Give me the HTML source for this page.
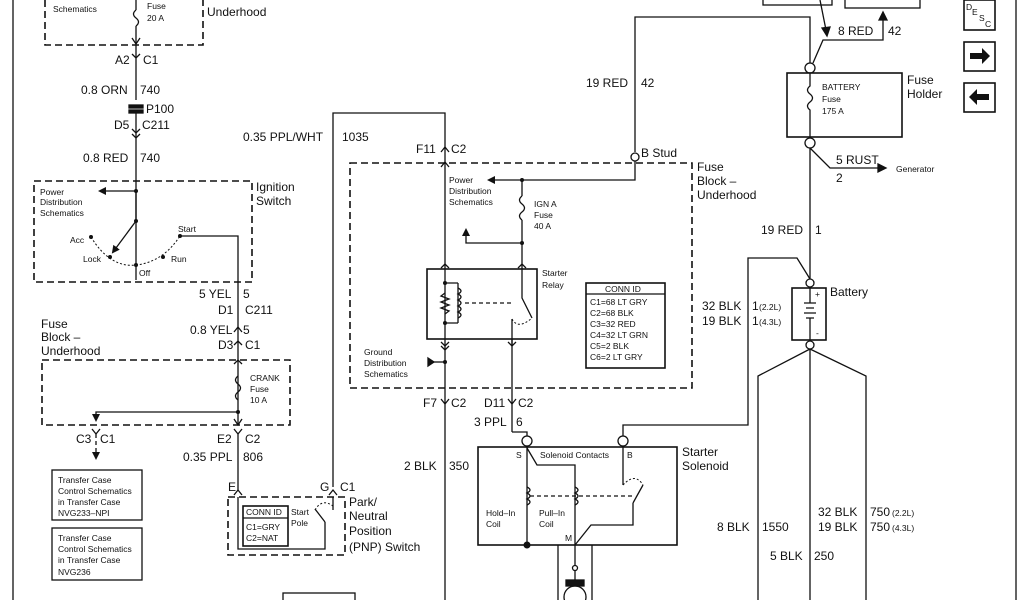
<!DOCTYPE html>
<html><head><meta charset="utf-8"><style>
html,body{margin:0;padding:0;background:#fff;width:1024px;height:600px;overflow:hidden}
svg{display:block}
text{font-family:"Liberation Sans",sans-serif;fill:#111}
.b{font-size:12px}
.s{font-size:8.5px}
</style></head><body>
<svg width="1024" height="600" viewBox="0 0 1024 600" xmlns="http://www.w3.org/2000/svg">
<defs>
<marker id="ah" markerWidth="8" markerHeight="8" refX="6" refY="4" orient="auto" markerUnits="userSpaceOnUse"><path d="M0,0 L8,4 L0,8 Z" fill="#111"/></marker>
</defs>
<g stroke="#111" stroke-width="1.3" fill="none">
<!-- borders -->
<line x1="13" y1="0" x2="13" y2="600"/>
<line x1="1016" y1="0" x2="1016" y2="600"/>
<!-- top-left dashed box -->
<path d="M45,0 V45 H203 V0" stroke-dasharray="7,4" stroke-width="1.6"/>
<!-- left wire -->
<line x1="136" y1="0" x2="136" y2="10"/>
<path d="M136,10 q-5,4 0,8 q5,4 0,8"/>
<line x1="136" y1="26" x2="136" y2="100"/>
<path d="M132,38 L136,44 L140,38"/>
<path d="M132,54 L136,58 L140,54"/>
<rect x="129" y="105" width="14" height="3" fill="#111"/>
<rect x="129" y="110" width="14" height="3" fill="#111"/>
<line x1="136" y1="113" x2="136" y2="280"/>
<path d="M132,129 L136,133 L140,129 M132,134 L136,138 L140,134"/>
<!-- ignition box -->
<rect x="34" y="181" width="218" height="101" stroke-dasharray="7,4" stroke-width="1.6"/>
<line x1="136" y1="191" x2="100" y2="191" marker-end="url(#ah)"/>
<line x1="136" y1="191" x2="136" y2="221"/>
<line x1="136" y1="221" x2="113" y2="252" marker-end="url(#ah)"/>
<path d="M91,237 Q110,268 136,265 Q163,262 180,236" stroke-dasharray="2,2" stroke-width="1"/>
<path d="M180,236 H238 V425"/>
<!-- fuse block underhood 2 -->
<rect x="42" y="360" width="248" height="65" stroke-dasharray="7,4" stroke-width="1.6"/>
<path d="M238,376 q-5,4 0,8 q5,4 0,8 q-5,4 0,8"/>
<path d="M238,412 H96 V420" marker-end="url(#ah)"/>
<path d="M234,419 L238,425 L242,419"/>
<path d="M234,332 L238,327 L242,332 M234,345 L238,341 L242,345 M234,364 L238,360 L242,364"/>
<path d="M234,429 L238,434 L242,429 M92,429 L96,434 L100,429"/>
<line x1="96" y1="434" x2="96" y2="458" stroke-dasharray="4,3" marker-end="url(#ah)"/>
<line x1="238" y1="434" x2="238" y2="490"/>
<rect x="52" y="470" width="90" height="50"/>
<rect x="52" y="528" width="90" height="52"/>
<!-- PNP -->
<rect x="228" y="497" width="117" height="58" stroke-dasharray="7,4" stroke-width="1.6"/>
<path d="M234,495 L238,490 L242,495 M329,495 L333,490 L337,495"/>
<path d="M238,497 V549 H325 V522"/>
<rect x="243" y="506" width="45" height="40" stroke-width="1.6"/>
<line x1="243" y1="518" x2="288" y2="518"/>
<path d="M325,522 L315,509"/>
<path d="M315,510 Q322,498 333,506" stroke-dasharray="2,2" stroke-width="1"/>
<line x1="333" y1="497" x2="333" y2="510"/>
<path d="M333,487 V113 H445 V600"/>
<!-- fuse block 3 -->
<rect x="350" y="163" width="342" height="225" stroke-dasharray="7,4" stroke-width="1.6"/>
<path d="M441,152 L445,147 L449,152 M441,167 L445,162 L449,167"/>
<path d="M635,152 V17 H810 V63"/>
<circle cx="635" cy="157" r="4" fill="#fff"/>
<path d="M635,161 V180 H489" marker-end="url(#ah)"/>
<line x1="522" y1="180" x2="522" y2="196"/>
<path d="M522,196 q-5,4 0,8 q5,4 0,8 q-5,4 0,8"/>
<line x1="522" y1="220" x2="522" y2="269"/>
<path d="M522,243 H466 V230" marker-end="url(#ah)"/>
<path d="M441,268 L445,264 L449,268 M518,268 L522,264 L526,268"/>
<rect x="427" y="269" width="110" height="70" stroke-width="1.6"/>
<path d="M445,283 H458 M445,323 H458 M458,283 V323"/>
<path d="M458,288 q6,3 0,6 q6,3 0,6 q6,3 0,6 q6,3 0,6 q6,3 0,6"/>
<path d="M445,293 l-4,3 l8,3 l-8,3 l8,3 l-8,3 l8,3 l-4,3"/>
<line x1="465" y1="303" x2="512" y2="303" stroke-dasharray="4,3"/>
<path d="M522,269 V298 L532,318"/>
<path d="M512,319 V345"/>
<path d="M512,319 Q518,330 532,318" stroke-dasharray="2,2" stroke-width="1"/>
<path d="M441,342 L445,346 L449,342 M508,342 L512,346 L516,342 M441,346 L445,350 L449,346"/>
<path d="M432,362 H445"/>
<path d="M428,358 L434,362 L428,366 Z" fill="#111"/>
<rect x="586" y="283" width="79" height="85" stroke-width="1.6"/>
<line x1="586" y1="294" x2="665" y2="294"/>
<line x1="512" y1="339" x2="512" y2="432"/>
<path d="M441,399 L445,404 L449,399 M508,399 L512,404 L516,399"/>
<path d="M512,432 H527 V437"/>
<!-- solenoid -->
<rect x="478" y="447" width="199" height="98" stroke-width="1.6"/>
<circle cx="527" cy="441" r="5" fill="#fff"/>
<circle cx="623" cy="441" r="5" fill="#fff"/>
<path d="M623,436 V425 H748 V258 H797 L810,279"/>
<path d="M527,446 V545"/>
<path d="M527,448 L537,465 H575 V545"/>
<path d="M527,487 q6,3 0,6 q6,3 0,6 q6,3 0,6"/>
<path d="M575,487 q6,3 0,6 q6,3 0,6 q6,3 0,6"/>
<line x1="530" y1="496" x2="633" y2="496" stroke-dasharray="4,3"/>
<path d="M623,446 V485 M633,503 L643,485 M633,503 V525 H591 L575,545"/>
<path d="M623,485 Q635,472 643,485" stroke-dasharray="2,2" stroke-width="1"/>
<path d="M558,545 V600 M592,545 V600 M575,545 V585"/>
<circle cx="575" cy="568" r="2.5" fill="#fff"/>
<rect x="566" y="580" width="18" height="6" fill="#111"/>
<circle cx="575" cy="597" r="11"/>
<!-- right side -->
<circle cx="810" cy="68" r="5" fill="#fff"/>
<circle cx="810" cy="143" r="5" fill="#fff"/>
<rect x="787" y="73" width="115" height="64" stroke-width="1.6"/>
<path d="M810,73 V86 q-5,4 0,8 q5,4 0,8 q-5,4 0,8 V137"/>
<path d="M810,148 V279 M810,148 L830,168 H883" />
<path d="M878,164 L886,168 L878,172 Z" fill="#111"/>
<path d="M813,63 L823,40 H883 V18"/>
<path d="M879,20 L883,12 L887,20 Z" fill="#111"/>
<path d="M820,0 L826,30"/>
<path d="M822,28 L827,36 L830,27 Z" fill="#111"/>
<rect x="763" y="-5" width="69" height="10"/>
<rect x="845" y="-5" width="75" height="13"/>
<circle cx="810" cy="283" r="4" fill="#fff"/>
<rect x="792" y="288" width="34" height="52" stroke-width="1.6"/>
<path d="M804,303 H816 M806,308 H814 M804,313 H816 M806,318 H814 M810,288 V303 M810,318 V340"/>
<circle cx="810" cy="345" r="4" fill="#fff"/>
<path d="M810,349 L758,376 V600 M810,349 V600 M810,349 L866,376 V600"/>
<rect x="964" y="0" width="31" height="30" stroke-width="1.6"/>
<rect x="964" y="42" width="31" height="29" stroke-width="1.6"/>
<rect x="964" y="83" width="31" height="29" stroke-width="1.6"/>
<rect x="283" y="593" width="72" height="12"/>
</g>
<!-- arrows in buttons -->
<path d="M970,53 H982 V48 L990,56 L982,64 V59 H970 Z" fill="#111"/>
<path d="M989,94 H977 V89 L969,97 L977,105 V100 H989 Z" fill="#111"/>
<!-- circles pivots -->
<g fill="#111">
<circle cx="136" cy="191" r="2"/><circle cx="136" cy="221" r="2"/><circle cx="91" cy="237" r="2"/>
<circle cx="110" cy="257" r="2"/><circle cx="136" cy="265" r="2"/><circle cx="163" cy="257" r="2"/><circle cx="180" cy="236" r="2"/>
<circle cx="238" cy="412" r="2"/><circle cx="522" cy="180" r="2"/><circle cx="522" cy="243" r="2"/>
<circle cx="445" cy="283" r="2"/><circle cx="445" cy="323" r="2"/><circle cx="445" cy="362" r="2"/>
<circle cx="527" cy="545" r="3.5"/>
</g>
<!-- text -->
<text class="s" x="53" y="12">Schematics</text>
<text class="s" x="147" y="9">Fuse</text>
<text class="s" x="147" y="21">20 A</text>
<text class="b" x="207" y="16">Underhood</text>
<text class="b" x="115" y="64">A2</text><text class="b" x="143" y="64">C1</text>
<text class="b" x="81" y="94">0.8 ORN</text><text class="b" x="140" y="94">740</text>
<text class="b" x="146" y="113">P100</text>
<text class="b" x="114" y="129">D5</text><text class="b" x="142" y="129">C211</text>
<text class="b" x="83" y="162">0.8 RED</text><text class="b" x="140" y="162">740</text>
<text class="s" x="40" y="195">Power</text><text class="s" x="40" y="205">Distribution</text><text class="s" x="40" y="216">Schematics</text>
<text class="b" x="256" y="191">Ignition</text><text class="b" x="256" y="205">Switch</text>
<text class="s" x="70" y="243">Acc</text><text class="s" x="83" y="262">Lock</text><text class="s" x="139" y="276">Off</text>
<text class="s" x="171" y="262">Run</text><text class="s" x="178" y="232">Start</text>
<text class="b" x="199" y="298">5 YEL</text><text class="b" x="243" y="298">5</text>
<text class="b" x="218" y="314">D1</text><text class="b" x="245" y="314">C211</text>
<text class="b" x="190" y="334">0.8 YEL</text><text class="b" x="243" y="334">5</text>
<text class="b" x="218" y="349">D3</text><text class="b" x="245" y="349">C1</text>
<text class="b" x="41" y="328">Fuse</text><text class="b" x="41" y="341">Block –</text><text class="b" x="41" y="355">Underhood</text>
<text class="s" x="250" y="381">CRANK</text><text class="s" x="250" y="392">Fuse</text><text class="s" x="250" y="403">10 A</text>
<text class="b" x="76" y="443">C3</text><text class="b" x="100" y="443">C1</text>
<text class="b" x="217" y="443">E2</text><text class="b" x="245" y="443">C2</text>
<text class="b" x="183" y="461">0.35 PPL</text><text class="b" x="243" y="461">806</text>
<text class="s" x="58" y="483">Transfer Case</text><text class="s" x="58" y="494">Control Schematics</text><text class="s" x="58" y="505">in Transfer Case</text><text class="s" x="58" y="516">NVG233–NPI</text>
<text class="s" x="58" y="541">Transfer Case</text><text class="s" x="58" y="552">Control Schematics</text><text class="s" x="58" y="563">in Transfer Case</text><text class="s" x="58" y="575">NVG236</text>
<text class="b" x="228" y="491">E</text><text class="b" x="320" y="491">G</text><text class="b" x="340" y="491">C1</text>
<text class="s" x="246" y="515">CONN ID</text><text class="s" x="246" y="530">C1=GRY</text><text class="s" x="246" y="541">C2=NAT</text>
<text class="s" x="291" y="515">Start</text><text class="s" x="291" y="526">Pole</text>
<text class="b" x="349" y="506">Park/</text><text class="b" x="349" y="520">Neutral</text><text class="b" x="349" y="535">Position</text><text class="b" x="349" y="551">(PNP) Switch</text>
<text class="b" x="243" y="141">0.35 PPL/WHT</text><text class="b" x="342" y="141">1035</text>
<text class="b" x="416" y="153">F11</text><text class="b" x="451" y="153">C2</text>
<text class="b" x="586" y="87">19 RED</text><text class="b" x="641" y="87">42</text>
<text class="b" x="641" y="157">B Stud</text>
<text class="b" x="697" y="171">Fuse</text><text class="b" x="697" y="185">Block –</text><text class="b" x="697" y="199">Underhood</text>
<text class="s" x="449" y="183">Power</text><text class="s" x="449" y="194">Distribution</text><text class="s" x="449" y="205">Schematics</text>
<text class="s" x="534" y="207">IGN A</text><text class="s" x="534" y="218">Fuse</text><text class="s" x="534" y="229">40 A</text>
<text class="s" x="542" y="276">Starter</text><text class="s" x="542" y="288">Relay</text>
<text class="s" x="605" y="292">CONN ID</text>
<text class="s" x="590" y="305">C1=68 LT GRY</text><text class="s" x="590" y="316">C2=68 BLK</text><text class="s" x="590" y="327">C3=32 RED</text>
<text class="s" x="590" y="338">C4=32 LT GRN</text><text class="s" x="590" y="349">C5=2 BLK</text><text class="s" x="590" y="360">C6=2 LT GRY</text>
<text class="s" x="364" y="355">Ground</text><text class="s" x="364" y="366">Distribution</text><text class="s" x="364" y="377">Schematics</text>
<text class="b" x="423" y="407">F7</text><text class="b" x="451" y="407">C2</text>
<text class="b" x="484" y="407">D11</text><text class="b" x="518" y="407">C2</text>
<text class="b" x="474" y="426">3 PPL</text><text class="b" x="516" y="426">6</text>
<text class="b" x="404" y="470">2 BLK</text><text class="b" x="449" y="470">350</text>
<text class="s" x="516" y="458">S</text><text class="s" x="540" y="458">Solenoid Contacts</text><text class="s" x="627" y="458">B</text>
<text class="s" x="486" y="516">Hold–In</text><text class="s" x="486" y="527">Coil</text>
<text class="s" x="539" y="516">Pull–In</text><text class="s" x="539" y="527">Coil</text>
<text class="s" x="565" y="541">M</text>
<text class="b" x="682" y="456">Starter</text><text class="b" x="682" y="470">Solenoid</text>
<text class="b" x="838" y="35">8 RED</text><text class="b" x="888" y="35">42</text>
<text class="s" x="822" y="90">BATTERY</text><text class="s" x="822" y="102">Fuse</text><text class="s" x="822" y="114">175 A</text>
<text class="b" x="907" y="84">Fuse</text><text class="b" x="907" y="98">Holder</text>
<text class="b" x="836" y="164">5 RUST</text><text class="b" x="836" y="182">2</text>
<text class="s" x="896" y="172">Generator</text>
<text class="b" x="761" y="234">19 RED</text><text class="b" x="815" y="234">1</text>
<text class="b" x="830" y="296">Battery</text>
<text class="s" x="815" y="297">+</text><text class="s" x="816" y="336">-</text>
<text class="b" x="702" y="310">32 BLK</text><text class="b" x="752" y="310">1</text><text class="s" x="759" y="310">(2.2L)</text>
<text class="b" x="702" y="325">19 BLK</text><text class="b" x="752" y="325">1</text><text class="s" x="759" y="325">(4.3L)</text>
<text class="b" x="818" y="516">32 BLK</text><text class="b" x="870" y="516">750</text><text class="s" x="892" y="516">(2.2L)</text>
<text class="b" x="818" y="531">19 BLK</text><text class="b" x="870" y="531">750</text><text class="s" x="892" y="531">(4.3L)</text>
<text class="b" x="717" y="531">8 BLK</text><text class="b" x="762" y="531">1550</text>
<text class="b" x="770" y="560">5 BLK</text><text class="b" x="814" y="560">250</text>
<text class="s" x="966" y="10">D</text><text class="s" x="972" y="15">E</text><text class="s" x="979" y="21">S</text><text class="s" x="985" y="27">C</text>
</svg>
</body></html>
